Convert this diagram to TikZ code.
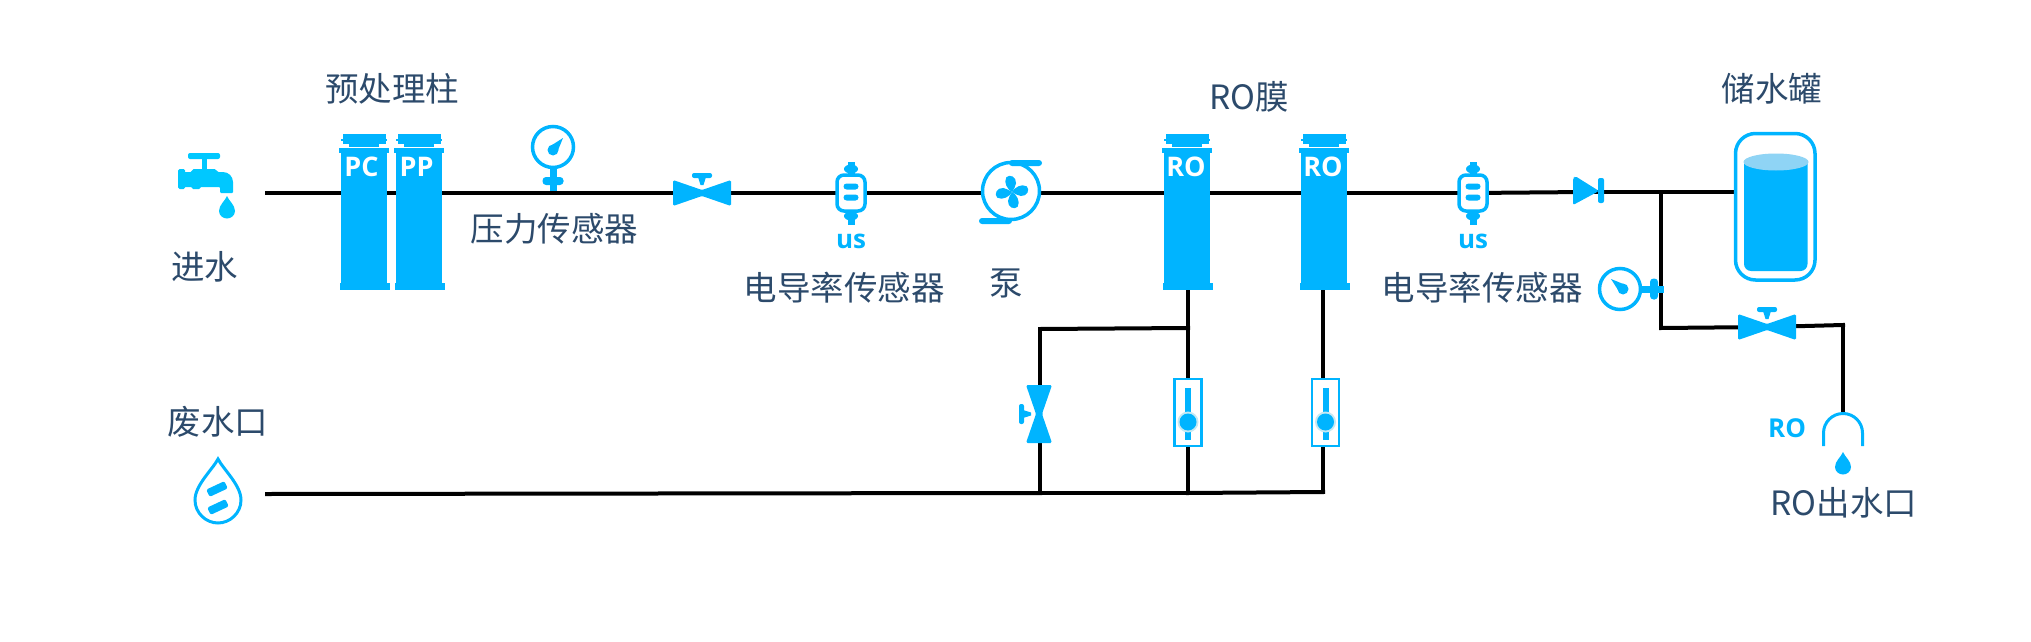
\documentclass[tikz,border=0pt]{standalone}
\usepackage{fontspec}
\newfontfamily\cjk{Noto Sans CJK SC}
\newfontfamily\tagfont{Open Sans}
\definecolor{waterblue}{HTML}{00B4FF}
\definecolor{tapblue}{HTML}{00C8FF}
\definecolor{surfaceblue}{HTML}{8FD4F5}
\definecolor{haloblue}{HTML}{C4E9F4}
\definecolor{labelblue}{HTML}{2C4A6B}
\tikzset{
  pipe/.style={line width=4pt, line cap=rect},
  lbl/.style={inner sep=0pt, text=labelblue, font=\fontsize{33.5}{33.5}\selectfont\cjk},
  tagw/.style={inner sep=0pt, text=white, font=\fontsize{27}{27}\selectfont\tagfont\bfseries},
  tagb/.style={inner sep=0pt, text=waterblue, font=\fontsize{26}{26}\selectfont\tagfont\bfseries},
  filter/.pic={
    \fill[waterblue] (-23, -45) rectangle (23, 97);
    \fill[waterblue] (-25, -45) rectangle (25, -40);
    \fill[waterblue] (-24, 90) rectangle (26, 97);
    \fill[waterblue] (-21, -59) rectangle (22, -49);
    \fill[waterblue] (-15, -50) rectangle (15, -46);
    \fill[waterblue] (-23, -54) rectangle (23, -52);
  },
  gauge/.pic={
    \fill[waterblue] (-3.5, 20) rectangle (3.5, 44);
    \fill[waterblue, rounded corners=3.5] (-10.5, 30) rectangle (10.5, 38);
    \draw[waterblue, line width=3.5pt, fill=white] (0, 0) circle (20.5);
    \fill[waterblue] (0, 3) circle (5.5);
    \fill[waterblue] (10, -9) -- (3.8, 6.2) -- (-3.8, -0.2) -- cycle;
  },
  valve/.pic={
    \fill[waterblue, rounded corners=1.5] (-29, -13) -- (0, -3) -- (29, -13) -- (29, 13) -- (0, 3) -- (-29, 13) -- cycle;
    \fill[waterblue, rounded corners=2] (-10, -20) rectangle (10, -15);
    \fill[waterblue] (-4, -16) -- (4, -16) -- (1.5, -8) -- (-1.5, -8) -- cycle;
  },
  conductivity/.pic={
    \fill[waterblue] (-3.5, -31.5) rectangle (3.5, 32);
    \fill[waterblue] (0, -24) ellipse (7 and 4.5);
    \fill[waterblue] (0, 23) ellipse (7 and 4.5);
    \draw[waterblue, line width=3.5pt, fill=white, rounded corners=7] (-14, -18) rectangle (14, 18);
    \fill[waterblue, rounded corners=3] (-7.5, -9.5) rectangle (7.5, -3.5);
    \fill[waterblue, rounded corners=3] (-7.5, 1.5) rectangle (7.5, 7.5);
  },
  flowmeter/.pic={
    \draw[waterblue, line width=2.5pt, fill=white] (-13.5, -33.5) rectangle (13.5, 33.5);
    \fill[waterblue] (-3, -25) rectangle (3, 27);
    \fill[haloblue] (0, 9.5) circle (10.5);
    \fill[waterblue] (0, 9.5) circle (8.5);
  },
  drop/.pic={
    \fill (0, -12) .. controls (2, -7) and (8, -3) .. (8, 3) .. controls (8, 7.5) and (4, 10.5) .. (0, 10.5) .. controls (-4, 10.5) and (-8, 7.5) .. (-8, 3) .. controls (-8, -3) and (-2, -7) .. cycle;
  },
  blade/.pic={
    \fill[waterblue] (0, 0) .. controls (-4, -3) and (-7, -11) .. (-3, -15.5) .. controls (1, -18.5) and (7, -14) .. (5.5, -8) .. controls (4.5, -5) and (2, -2) .. (0, 0);
  }
}
\begin{document}
\begin{tikzpicture}[x=1pt, y=-1pt]
  \useasboundingbox (0, 0) rectangle (2031, 642);

  \coordinate (inlet) at (267, 193);
  \coordinate (pc) at (364, 193);
  \coordinate (pp) at (419, 193);
  \coordinate (valveA) at (702, 193);
  \coordinate (sensorA) at (851, 193);
  \coordinate (pump) at (1011, 193);
  \coordinate (roA) at (1187, 193);
  \coordinate (roB) at (1324, 193);
  \coordinate (sensorB) at (1473, 193);
  \coordinate (check) at (1586, 192);
  \coordinate (teeC) at (1661, 192);
  \coordinate (tank) at (1735, 192);
  \coordinate (teeD) at (1661, 328);
  \coordinate (valveC) at (1767, 327);
  \coordinate (bend) at (1843, 325);
  \coordinate (outlet) at (1843, 412);
  \coordinate (roAout) at (1188, 290);
  \coordinate (roBout) at (1323, 290);
  \coordinate (teeA) at (1188, 328);
  \coordinate (teeB) at (1040, 329);
  \coordinate (drain) at (267, 494);
  \coordinate (joinA) at (1040, 493);
  \coordinate (joinB) at (1188, 493);
  \coordinate (joinC) at (1323, 492);

  \draw[pipe] (inlet) -- (pc);
  \draw[pipe] (pc) -- (pp);
  \draw[pipe] (pp) -- (valveA);
  \draw[pipe] (valveA) -- (sensorA);
  \draw[pipe] (sensorA) -- (pump);
  \draw[pipe] (pump) -- (roA);
  \draw[pipe] (roA) -- (roB);
  \draw[pipe] (roB) -- (sensorB);
  \draw[pipe] (sensorB) -- (check);
  \draw[pipe] (check) -- (teeC);
  \draw[pipe] (teeC) -- (tank);
  \draw[pipe] (teeC) -- (teeD);
  \draw[pipe] (teeD) -- (valveC);
  \draw[pipe] (valveC) -- (bend);
  \draw[pipe] (bend) -- (outlet);
  \draw[pipe] (roAout) -- (teeA);
  \draw[pipe] (teeA) -- (joinB);
  \draw[pipe] (teeA) -- (teeB);
  \draw[pipe] (teeB) -- (joinA);
  \draw[pipe] (roBout) -- (joinC);
  \draw[pipe] (drain) -- (joinA);
  \draw[pipe] (joinA) -- (joinB);
  \draw[pipe] (joinB) -- (joinC);

  \fill[tapblue, rounded corners=2] (188, 153) rectangle (220, 159);
  \fill[tapblue] (202, 156) rectangle (207, 172);
  \fill[tapblue, rounded corners=1.5] (178, 169) rectangle (185, 189);
  \fill[tapblue, rounded corners=1.5] (184, 172) -- (192, 172) -- (192, 169) -- (216, 169) -- (217, 172) [rounded corners=10] -- (233, 172) [rounded corners=1] -- (233, 193) -- (220, 193) -- (220, 187) -- (200, 187) -- (200, 189) -- (192, 189) -- (192, 187) -- (184, 187) -- cycle;
  \pic[color=tapblue] at (227, 208) {drop};

  \pic at (pc) {filter};
  \pic at (pp) {filter};
  \pic at (553, 147) {gauge};
  \pic at (valveA) {valve};
  \pic at (sensorA) {conductivity};
  \pic at (roA) {filter};
  \pic at (roB) {filter};
  \pic at (sensorB) {conductivity};
  \pic[rotate=90] at (1620, 289) {gauge};
  \pic at (valveC) {valve};
  \pic[rotate=90] at (1039, 414) {valve};
  \pic at (1188, 412.5) {flowmeter};
  \pic at (1325.5, 412.5) {flowmeter};

  \draw[waterblue, line width=3.5pt, fill=white] (1011, 191) circle (28.5);
  \fill[waterblue, rounded corners=3] (1009, 160) rectangle (1042, 166);
  \fill[waterblue, rounded corners=3] (979, 218) rectangle (1012, 224);
  \foreach \a in {10, 100, 190, 280}
    \pic[rotate=\a] at (1012, 192) {blade};

  \fill[waterblue] (1573, 178) [rounded corners=2] -- (1573, 205) -- (1599, 191) -- (1575, 176) -- cycle;
  \fill[waterblue, rounded corners=2] (1598, 178) rectangle (1604, 203);

  \draw[waterblue, line width=3.5pt, fill=white, rounded corners=20] (1735.5, 133.5) rectangle (1815, 280);
  \fill[waterblue] (1744, 162) [rounded corners=7] -- (1744, 271) -- (1807.5, 271) [sharp corners] -- (1807.5, 162) -- cycle;
  \fill[surfaceblue] (1776, 162) ellipse (32.5 and 8.5);

  \draw[waterblue, line width=3pt] (1823.5, 446) -- (1823.5, 433) arc[start angle=180, end angle=360, radius=19.5] -- (1862.5, 446);
  \pic[color=waterblue] at (1843, 464) {drop};

  \draw[waterblue, line width=3pt] (218, 459) .. controls (213, 469) and (195, 485) .. (195, 500) .. controls (195, 513) and (206, 523) .. (218, 523) .. controls (230, 523) and (241, 513) .. (241, 500) .. controls (241, 485) and (223, 469) .. cycle;
  \fill[waterblue, rounded corners=1.5, shift={(217, 489)}, rotate=25] (-10, -4) rectangle (10, 4);
  \fill[waterblue, rounded corners=1.5, shift={(218, 507)}, rotate=25] (-10, -4) rectangle (10, 4);

  \node[tagw] (pcmark) at (361.5, 166.5) {PC};
  \node[tagw] (ppmark) at (416.5, 166.5) {PP};
  \node[tagw] (roamark) at (1186, 167) {RO};
  \node[tagw] (robmark) at (1323, 167) {RO};
  \node[tagb] (usa) at (851, 241) {us};
  \node[tagb] (usb) at (1473, 241) {us};
  \node[tagb] (romark) at (1787, 428) {RO};

  \node[lbl] (inletlabel) at (204.5, 267) {进水};
  \node[lbl] (pretreat) at (392, 89) {预处理柱};
  \node[lbl] (pressure) at (554.5, 229) {压力传感器};
  \node[lbl] (conda) at (844, 288) {电导率传感器};
  \node[lbl] (pumplabel) at (1006, 283) {泵};
  \node[lbl] (membrane) at (1249, 97) {RO膜};
  \node[lbl] (condb) at (1482, 288) {电导率传感器};
  \node[lbl] (tanklabel) at (1772, 89) {储水罐};
  \node[lbl] (wastelabel) at (218, 422) {废水口};
  \node[lbl] (outletlabel) at (1844, 503) {RO出水口};
\end{tikzpicture}
\end{document}
